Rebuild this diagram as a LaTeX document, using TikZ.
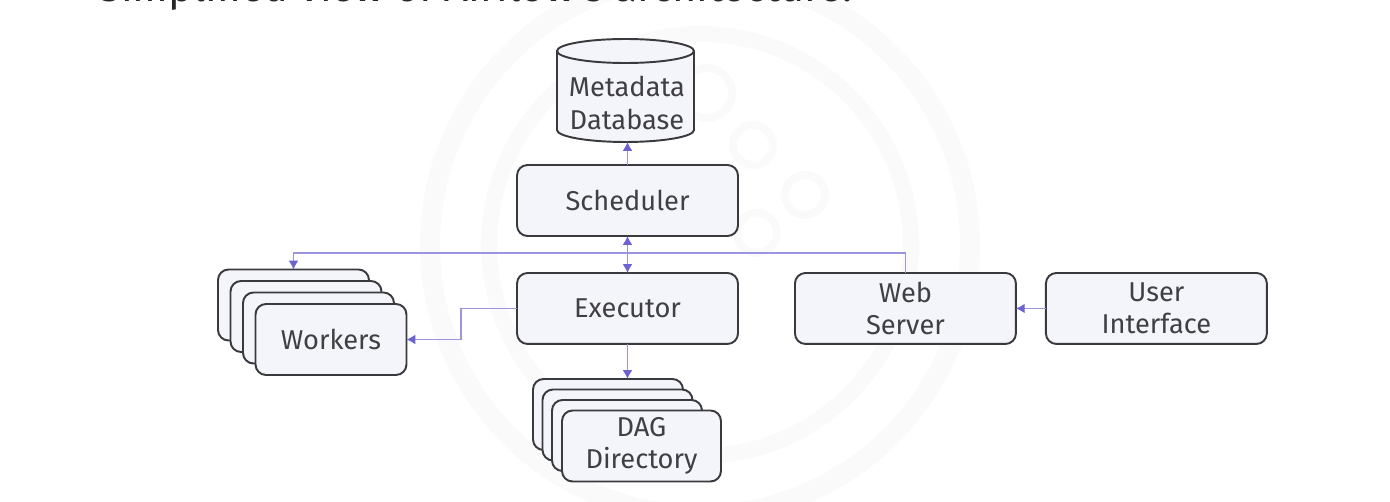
\documentclass[tikz,border=0pt]{standalone}
\usepackage{fontspec}
\setmainfont{Fira Sans}
\usepackage{xcolor}
\usetikzlibrary{arrows.meta,positioning,calc}
\definecolor{cardfill}{RGB}{244,245,250}
\definecolor{edge}{RGB}{58,58,62}
\definecolor{ink}{RGB}{64,64,68}
\definecolor{violet}{RGB}{155,148,225}
\definecolor{tipcol}{RGB}{108,98,208}
\definecolor{mark}{RGB}{250,250,251}
\begin{document}
\begin{tikzpicture}[x=0.02cm,y=-0.02cm,font=\fontsize{15.5}{18.4}\selectfont,
  card/.style={draw=edge,line width=1.1pt,rounded corners=6pt,fill=cardfill,align=center,text=ink,minimum width=4.42cm,minimum height=1.42cm,inner sep=0pt,outer sep=0pt},
  worker/.style={card,minimum width=3.02cm},
  dagback/.style={card,minimum width=3cm},
  drum/.style={draw=edge,line width=1.1pt,fill=cardfill},
  tip/.style={-{Latex[length=5pt,width=5.5pt,color=tipcol]}},
  link/.style={draw=violet,line width=0.7pt,tip},
  ring/.style={draw=mark}]
  \useasboundingbox (0,0) rectangle (1390,502);
  \clip (0,0) rectangle (1390,502);
  % faint logo behind the diagram
  \draw[ring,line width=0.4cm] (700,245) circle (270);
  \draw[ring,line width=0.32cm] (700,245) circle (211);
  \draw[ring,line width=0.16cm] (753,145) circle (20);
  \draw[ring,line width=0.16cm] (805,195) circle (20);
  \draw[ring,line width=0.16cm] (707,93) circle (25);
  \draw[ring,line width=0.16cm] (757,233) circle (20);
  \draw[ring,line width=0.16cm] (692,415) -- (692,474);
  \node[text=black!85,font=\fontsize{23.7}{28}\selectfont,anchor=base west,inner sep=0pt] (title) at (98,2) {Simplified view of Airflow's architecture:};
  % database drum
  \node[minimum width=2.74cm,minimum height=2.06cm,inner sep=0pt,outer sep=0pt] (meta) at (625.5,90.5) {};
  \draw[drum] ($(meta.north west)+(0,12)$) -- ($(meta.south west)+(0,-12)$)
    arc[start angle=180,end angle=360,x radius=1.37cm,y radius=0.24cm] -- ($(meta.north east)+(0,12)$)
    arc[start angle=0,end angle=180,x radius=1.37cm,y radius=0.24cm] -- cycle;
  \draw[drum,fill=none] ($(meta.north west)+(0,12)$) arc[start angle=180,end angle=360,x radius=1.37cm,y radius=0.24cm];
  \node[align=center,text=ink,inner sep=0pt] (metatext) at (627,103) {Metadata\\Database};
  \node[card] (sched) at (627.5,200.5) {Scheduler};
  \node[card,below=0.74cm of sched] (exec) {Executor};
  \node[card,right=1.14cm of exec] (web) {Web\\Server};
  \node[card,right=0.6cm of web] (ui) {User\\Interface};
  % workers stack
  \node[worker] (wa) at (293.5,305) {};
  \node[worker,xshift=0.25cm,yshift=-0.23cm] (wb) at (wa) {};
  \node[worker,xshift=0.25cm,yshift=-0.23cm] (wc) at (wb) {};
  \node[worker,xshift=0.25cm,yshift=-0.23cm] (workers) at (wc) {Workers};
  % dag stack
  \node[dagback] (da) at (608,414.5) {};
  \node[dagback,xshift=0.19cm,yshift=-0.21cm] (db) at (da) {};
  \node[dagback,xshift=0.19cm,yshift=-0.21cm] (dc) at (db) {};
  \node[card,minimum width=3.18cm] (dag) at (641.5,446) {DAG\\Directory};
  \coordinate (bus) at (627,253);
  \coordinate (bend) at (461,340);
  \draw[link] (sched.north) -- (sched.north |- meta.south);
  \draw[link,{Latex[length=5pt,width=5.5pt,color=tipcol]}-{Latex[length=5pt,width=5.5pt,color=tipcol]}] (sched) -- (exec);
  \draw[link] (web.north) |- (bus) -| (wa.north);
  \draw[link] (exec.west) -| (bend |- workers.east) -- (workers.east);
  \draw[link] (exec.south) -- (exec.south |- da.north);
  \draw[link] (ui) -- (web);
\end{tikzpicture}
\end{document}
